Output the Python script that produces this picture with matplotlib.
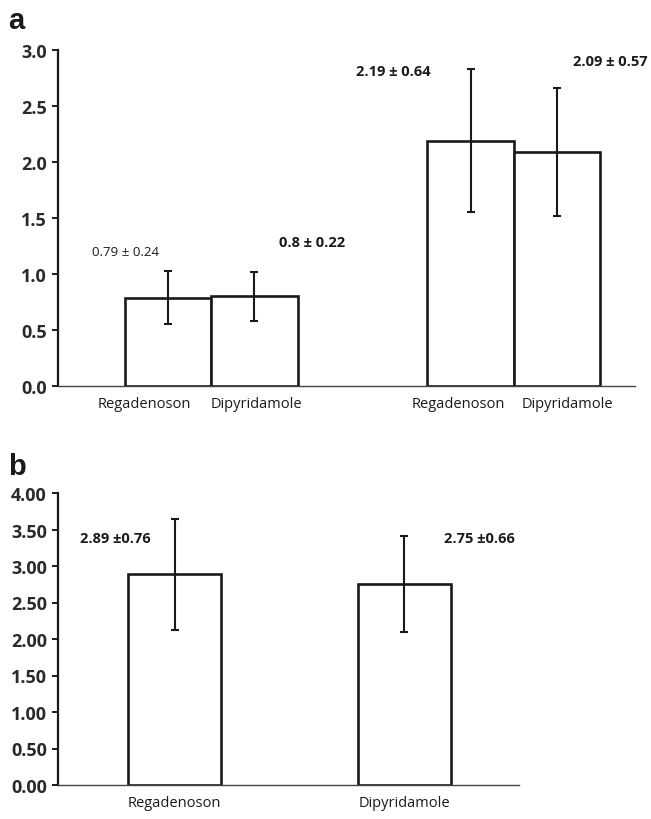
import matplotlib
matplotlib.use("Agg")
import matplotlib.pyplot as plt

# *** DATA
# panel a: two groups of two bars
A_LABELS = ["Regadenoson", "Dipyridamole", "Regadenoson", "Dipyridamole"]
A_MEANS = [0.79, 0.80, 2.19, 2.09]
A_SD = [0.24, 0.22, 0.64, 0.57]
A_TEXT = ["0.79 \u00b1 0.24", "0.8 \u00b1 0.22", "2.19 \u00b1 0.64", "2.09 \u00b1 0.57"]
A_TICKS = [0.0, 0.5, 1.0, 1.5, 2.0, 2.5, 3.0]

# panel b: one bar per drug
B_LABELS = ["Regadenoson", "Dipyridamole"]
B_MEANS = [2.89, 2.75]
B_SD = [0.76, 0.66]
B_TEXT = ["2.89 \u00b10.76", "2.75 \u00b10.66"]
B_TICKS = [0.0, 0.5, 1.0, 1.5, 2.0, 2.5, 3.0, 3.5, 4.0]

FONT = "Open Sans"
INK = "#1a1a1a"


def style_axes(ax):
  ax.spines["top"].set_visible(False)
  ax.spines["right"].set_visible(False)
  ax.spines["left"].set_linewidth(1.6)
  ax.spines["left"].set_color(INK)
  ax.spines["bottom"].set_linewidth(1.0)
  ax.spines["bottom"].set_color("#444444")
  ax.tick_params(axis="y", direction="out", length=4, width=1.4, color=INK,
                 labelsize=13, labelcolor="#2a2a2a", pad=4)
  ax.tick_params(axis="x", length=0, labelsize=10.5, labelcolor=INK, pad=7)
  for lab in ax.get_yticklabels():
    lab.set_fontfamily(FONT)
    lab.set_fontweight("bold")
  for lab in ax.get_xticklabels():
    lab.set_fontfamily(FONT)


def draw_bars(ax, pos, means, sd, width):
  ax.bar(pos, means, width=width, color="white", edgecolor=INK,
         linewidth=1.9, zorder=2)
  ax.errorbar(pos, means, yerr=sd, fmt="none", ecolor=INK,
              elinewidth=1.5, capsize=3, capthick=1.5, zorder=3)


def note(ax, x, y, s, size, bold=True):
  ax.text(x, y, s, fontsize=size, family=FONT,
          weight="bold" if bold else "normal", color=INK,
          ha="left", va="center")


fig = plt.figure(figsize=(6.51, 8.2), dpi=100)

# !> Panel a
ax_a = fig.add_axes([58 / 651, 1 - 387 / 820, 577 / 651, 336 / 820])
pos_a = [0, 1, 3.5, 4.5]
draw_bars(ax_a, pos_a, A_MEANS, A_SD, 1.0)
ax_a.set_xlim(-1.27, 5.4)
ax_a.set_ylim(0, 3.0)
ax_a.set_yticks(A_TICKS)
ax_a.set_yticklabels([f"{t:.1f}" for t in A_TICKS])
ax_a.set_xticks([-0.27, 1.02, 3.36, 4.62])
ax_a.set_xticklabels(A_LABELS)
style_axes(ax_a)

note(ax_a, -0.88, 1.20, A_TEXT[0], 9.5, bold=False)
note(ax_a, 1.28, 1.29, A_TEXT[1], 10.5)
note(ax_a, 2.18, 2.81, A_TEXT[2], 10.5)
note(ax_a, 4.68, 2.90, A_TEXT[3], 10.5)

# !> Panel b
ax_b = fig.add_axes([58 / 651, 1 - 786 / 820, 461 / 651, 292 / 820])
pos_b = [0, 1]
draw_bars(ax_b, pos_b, B_MEANS, B_SD, 0.404)
ax_b.set_xlim(-0.507, 1.498)
ax_b.set_ylim(0, 4.0)
ax_b.set_yticks(B_TICKS)
ax_b.set_yticklabels([f"{t:.2f}" for t in B_TICKS])
ax_b.set_xticks(pos_b)
ax_b.set_xticklabels(B_LABELS)
style_axes(ax_b)

note(ax_b, -0.41, 3.38, B_TEXT[0], 10.5)
note(ax_b, 1.17, 3.39, B_TEXT[1], 10.5)

# panel letters
fig.text(8 / 651, 1 - 29 / 820, "a", fontsize=21, weight="bold",
         family="Liberation Sans", color=INK, ha="left", va="baseline")
fig.text(8 / 651, 1 - 475 / 820, "b", fontsize=21, weight="bold",
         family="Liberation Sans", color=INK, ha="left", va="baseline")

fig.savefig("out.png", dpi=100)
